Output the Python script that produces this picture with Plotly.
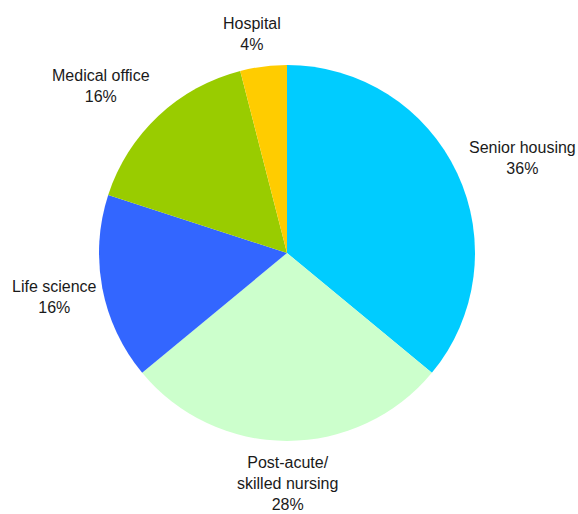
import plotly.graph_objects as go

categories = ["Senior housing", "Post-acute/<br>skilled nursing", "Life science", "Medical office", "Hospital"]
values = [36, 28, 16, 16, 4]
colors = ["#00CCFF", "#CCFFCC", "#3366FF", "#99CC00", "#FFCC00"]

# label centre offsets from the pie centre, in pie radii (right, down) - placement only
label_offset = [(1.255, -0.503), (0.005, 1.228), (-1.239, 0.234), (-0.989, -0.888), (-0.186, -1.165)]

W, H = 578, 514
L, R, T, B = 99, 103, 65, 73

fig = go.Figure(go.Pie(
    labels=categories,
    values=values,
    sort=False,
    direction="clockwise",
    rotation=0,
    marker=dict(colors=colors, line=dict(width=0)),
    textinfo="none",
    showlegend=False,
    hoverinfo="label+percent",
))

total = sum(values)
annotations = []
for lab, v, (dx, dy) in zip(categories, values, label_offset):
    pct = round(v / total * 100)
    annotations.append(dict(
        x=0.5 + 0.5 * dx, y=0.5 - 0.5 * dy, xref="paper", yref="paper",
        xanchor="center", yanchor="middle",
        text=f"{lab}<br>{pct}%",
        showarrow=False, align="center",
        font=dict(family="Liberation Sans, Arial, sans-serif", size=16, color="#1a1a1a"),
    ))

fig.update_layout(
    width=W, height=H,
    margin=dict(l=L, r=R, t=T, b=B),
    paper_bgcolor="white",
    plot_bgcolor="white",
    annotations=annotations,
)

fig.write_html("out.html")
